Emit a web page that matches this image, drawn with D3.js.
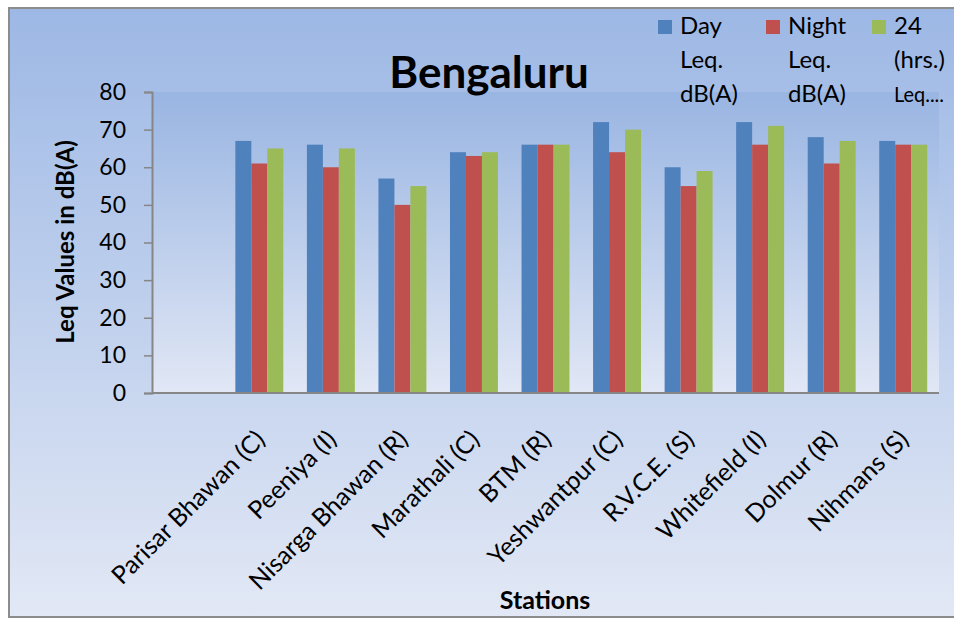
<!DOCTYPE html>
<html>
<head>
<meta charset="utf-8">
<script src="https://cdn.jsdelivr.net/npm/d3@7"></script>
<style>
  body { margin: 0; background: #fff; }
  svg { display: block; font-family: Lato, "Open Sans", sans-serif; }
</style>
</head>
<body>
<div id="chart"></div>
<script>
// first slot is left blank in the original chart
const stations = ['', 'Parisar Bhawan (C)', 'Peeniya (I)', 'Nisarga Bhawan (R)', 'Marathali (C)',
  'BTM (R)', 'Yeshwantpur (C)', 'R.V.C.E. (S)', 'Whitefield (I)', 'Dolmur (R)', 'Nihmans (S)'];
const dayLeq = [null, 67, 66, 57, 64, 66, 72, 60, 72, 68, 67];
const nightLeq = [null, 61, 60, 50, 63, 66, 64, 55, 66, 61, 66];
const fullDayLeq = [null, 65, 65, 55, 64, 66, 70, 59, 71, 67, 66];
const seriesNames = [['Day', 'Leq.', 'dB(A)'], ['Night', 'Leq.', 'dB(A)'], ['24', '(hrs.)', 'Leq....']];
const yTicks = [0, 10, 20, 30, 40, 50, 60, 70, 80];

const colors = ['#4f81bd', '#c0504d', '#9bbb59'];
const series = [dayLeq, nightLeq, fullDayLeq];

const width = 954, height = 620;
const plot = { left: 152, right: 939, top: 92, bottom: 393 };

const svg = d3.select('#chart').append('svg')
  .attr('width', width)
  .attr('height', height);

const defs = svg.append('defs');
const outerGrad = defs.append('linearGradient').attr('id', 'outerGrad')
  .attr('x1', 0).attr('y1', 0).attr('x2', 0).attr('y2', 1);
outerGrad.append('stop').attr('offset', '0%').attr('stop-color', '#9db8e5');
outerGrad.append('stop').attr('offset', '100%').attr('stop-color', '#e2e8f5');

const plotGrad = defs.append('linearGradient').attr('id', 'plotGrad')
  .attr('x1', 0).attr('y1', 0).attr('x2', 0).attr('y2', 1);
plotGrad.append('stop').attr('offset', '0%').attr('stop-color', '#99b5e2');
plotGrad.append('stop').attr('offset', '100%').attr('stop-color', '#e1e7f5');

// chart area
svg.append('rect')
  .attr('x', 9).attr('y', 8)
  .attr('width', width).attr('height', 609)
  .attr('fill', 'url(#outerGrad)')
  .attr('stroke', '#8c8c8c')
  .attr('stroke-width', 2);

// plot area
svg.append('rect')
  .attr('x', plot.left).attr('y', plot.top)
  .attr('width', plot.right - plot.left).attr('height', plot.bottom - plot.top)
  .attr('fill', 'url(#plotGrad)');

// scales
const x0 = d3.scaleBand()
  .domain(stations.map((s, i) => i))
  .range([plot.left, plot.right])
  .paddingInner(0.33)
  .paddingOuter(0.165);

const x1 = d3.scaleBand()
  .domain([0, 1, 2])
  .range([0, x0.bandwidth()]);

const y = d3.scaleLinear()
  .domain([0, 80])
  .range([plot.bottom, plot.top]);

// bars
const groups = svg.append('g').selectAll('g')
  .data(stations.map((s, i) => i))
  .enter()
  .append('g')
  .attr('transform', i => `translate(${x0(i)},0)`);

groups.selectAll('rect')
  .data(i => series.map((vals, k) => ({ k, v: vals[i] })).filter(d => d.v != null))
  .enter()
  .append('rect')
  .attr('x', d => x1(d.k))
  .attr('y', d => y(d.v))
  .attr('width', x1.bandwidth())
  .attr('height', d => plot.bottom - y(d.v))
  .attr('fill', d => colors[d.k]);

// y axis
const yAxis = svg.append('g')
  .attr('transform', `translate(${plot.left},0)`)
  .call(d3.axisLeft(y).tickValues(yTicks).tickSize(8).tickPadding(18));
yAxis.selectAll('line').attr('stroke', '#868686').attr('stroke-width', 1.5);
yAxis.select('.domain').attr('stroke', '#868686').attr('stroke-width', 2);
yAxis.selectAll('text')
  .attr('font-size', 23)
  .attr('font-family', 'Lato, "Open Sans", sans-serif')
  .attr('fill', '#000');

// x axis
const xAxis = svg.append('g')
  .attr('transform', `translate(0,${plot.bottom})`)
  .call(d3.axisBottom(x0).tickSize(0).tickSizeOuter(0).tickFormat(i => stations[i]));
xAxis.select('.domain').attr('stroke', '#868686').attr('stroke-width', 2)
  .attr('d', `M${plot.left},0H${plot.right}`);
xAxis.selectAll('text')
  .attr('font-size', 25)
  .attr('font-family', 'Lato, "Open Sans", sans-serif')
  .attr('fill', '#000')
  .attr('text-anchor', 'end')
  .attr('dy', 0)
  .attr('transform', 'translate(5,46) rotate(-45)');

// title
svg.append('text')
  .attr('x', 489).attr('y', 88)
  .attr('text-anchor', 'middle')
  .attr('font-size', 44)
  .attr('font-weight', 'bold')
  .text('Bengaluru');

// axis titles
svg.append('text')
  .attr('transform', 'translate(74,242) rotate(-90)')
  .attr('text-anchor', 'middle')
  .attr('font-size', 24)
  .attr('font-weight', 'bold')
  .text('Leq Values in dB(A)');

svg.append('text')
  .attr('x', 545).attr('y', 609)
  .attr('text-anchor', 'middle')
  .attr('font-size', 25)
  .attr('font-weight', 'bold')
  .text('Stations');

// legend
const legendX = [658, 766, 872];
const legend = svg.append('g').selectAll('g')
  .data(seriesNames)
  .enter()
  .append('g')
  .attr('transform', (d, i) => `translate(${legendX[i]},0)`);

legend.append('rect')
  .attr('x', 0).attr('y', 20)
  .attr('width', 14).attr('height', 14)
  .attr('fill', (d, i) => colors[i]);

legend.selectAll('text')
  .data(d => d)
  .enter()
  .append('text')
  .attr('x', 22)
  .attr('y', (d, j) => 34 + j * 34)
  .attr('font-size', 24)
  .text(d => d)
  .each(function (d) {
    // the last legend line runs to the edge of the picture; squeeze it to fit
    if (d === 'Leq....') {
      d3.select(this).attr('font-size', 22).attr('textLength', 50).attr('lengthAdjust', 'spacingAndGlyphs');
    }
  });
</script>
</body>
</html>
